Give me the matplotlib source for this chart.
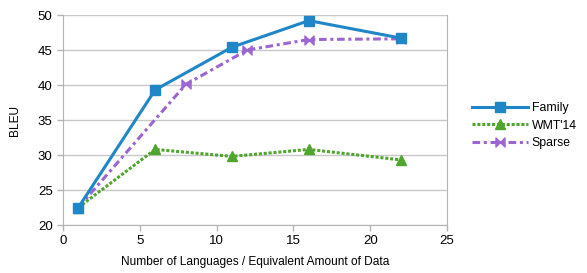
import matplotlib.pyplot as plt
from matplotlib.path import Path

plt.rcParams['font.family'] = ['Liberation Sans', 'DejaVu Sans']

family_x = [1, 6, 11, 16, 22]
family_y = [22.5, 39.3, 45.4, 49.2, 46.7]
wmt_x = [1, 6, 11, 16, 22]
wmt_y = [22.5, 30.8, 29.8, 30.8, 29.3]
sparse_x = [1, 8, 12, 16, 22]
sparse_y = [22.5, 40.1, 45.0, 46.5, 46.6]

# bow-tie marker for the Sparse series
bowtie = Path([(-1, -1), (0, 0), (-1, 1), (-1, -1), (1, -1), (0, 0), (1, 1), (1, -1)],
              [Path.MOVETO, Path.LINETO, Path.LINETO, Path.CLOSEPOLY,
               Path.MOVETO, Path.LINETO, Path.LINETO, Path.CLOSEPOLY])

fig = plt.figure(figsize=(5.87, 2.73), dpi=100)
ax = fig.add_axes([0.1073, 0.1758, 0.6542, 0.7692])

ax.plot(wmt_x, wmt_y, color='#4fa52d', lw=2.2, ls=(0, (1, 0.6)), marker='^', ms=7,
        label="WMT'14", zorder=3)
ax.plot(sparse_x, sparse_y, color='#9b66cf', lw=2.2, ls=(0, (2.5, 1.2, 1, 1.2)),
        marker=bowtie, ms=6.5, label='Sparse', zorder=4)
ax.plot(family_x, family_y, color='#1f86c8', lw=2.2, marker='s', ms=7,
        label='Family', zorder=5)

ax.set_xlim(0, 25)
ax.set_ylim(20, 50)
ax.set_xticks([0, 5, 10, 15, 20, 25])
ax.set_yticks([20, 25, 30, 35, 40, 45, 50])
ax.yaxis.grid(True, color='#c8c8c8', lw=1)
ax.set_axisbelow(True)
for s in ax.spines.values():
    s.set_color('#b3b3b3')
ax.spines['top'].set_visible(False)
ax.tick_params(axis='both', colors='#b3b3b3', labelcolor='black', labelsize=9.5,
               length=4, width=1)

ax.set_xlabel('Number of Languages / Equivalent Amount of Data', fontsize=8.6, labelpad=6)
ax.set_ylabel('BLEU', fontsize=8.6, labelpad=12)

handles, labels = ax.get_legend_handles_labels()
order = [2, 0, 1]
fig.legend([handles[i] for i in order], [labels[i] for i in order],
           loc='center left', bbox_to_anchor=(0.785, 0.54), frameon=False,
           fontsize=8.8, handlelength=4.6, handletextpad=0.3, labelspacing=0.45)

fig.savefig('out.png', dpi=100)
